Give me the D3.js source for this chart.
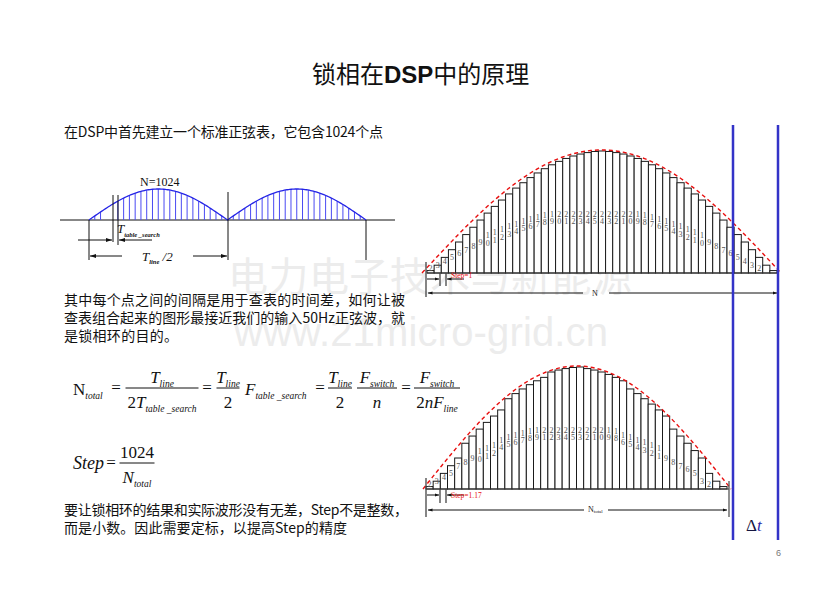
<!DOCTYPE html>
<html lang="zh">
<head>
<meta charset="UTF-8">
<title>锁相在DSP中的原理</title>
<script src="https://d3js.org/d3.v7.min.js"></script>
<style>
  body { margin: 0; background: #fff; }
</style>
</head>
<body>
<script>
var tableValues = [0.02, 0.064, 0.128, 0.191, 0.254, 0.315, 0.375, 0.434, 0.491, 0.546,
                   0.598, 0.648, 0.696, 0.740, 0.782, 0.820, 0.855, 0.887, 0.915, 0.939,
                   0.959, 0.975, 0.987, 0.996, 1.0];
// table index used by every bar, Step = 1
var upperLabels = [1,2,3,4,5,6,7,8,9,10,11,12,13,14,15,16,17,18,19,20,21,22,23,24,25,
                   24,23,22,21,20,19,18,17,16,15,14,13,12,11,10,9,8,7,6,5,4,3,2,1];
// table index used by every bar, Step = 1.17
var lowerLabels = [1,2,3,4,5,7,8,9,10,11,12,14,15,16,17,18,19,21,22,23,24,25,
                   23,22,21,20,19,18,16,15,14,13,12,11,9,8,7,6,5,3,2,1];
var introText = "在DSP中首先建立一个标准正弦表，它包含1024个点";
var paraLines = ["其中每个点之间的间隔是用于查表的时间差，如何让被",
                 "查表组合起来的图形最接近我们的输入50Hz正弦波，就",
                 "是锁相环的目的。"];
var bottomLines = ["要让锁相环的结果和实际波形没有无差，Step不是整数，",
                   "而是小数。因此需要定标，以提高Step的精度"];

var W = 835, H = 591;
var cjk = "'Noto Sans CJK SC', sans-serif";
var serif = "'Liberation Serif', 'DejaVu Serif', serif";

var svg = d3.select("body").append("svg")
    .attr("width", W)
    .attr("height", H)
    .style("background", "#fff");

var defs = svg.append("defs");
defs.append("marker")
    .attr("id", "ah")
    .attr("viewBox", "0 0 10 10")
    .attr("refX", 10).attr("refY", 5)
    .attr("markerWidth", 6).attr("markerHeight", 6)
    .attr("orient", "auto")
    .append("path").attr("d", "M0,1.5 L10,5 L0,8.5 z").attr("fill", "#111");
defs.append("marker")
    .attr("id", "ahs")
    .attr("viewBox", "0 0 10 10")
    .attr("refX", 10).attr("refY", 5)
    .attr("markerWidth", 4.5).attr("markerHeight", 4.5)
    .attr("orient", "auto")
    .append("path").attr("d", "M0,1.5 L10,5 L0,8.5 z").attr("fill", "#111");

// watermark
svg.append("text")
    .attr("x", 228).attr("y", 291)
    .attr("textLength", 404)
    .style("font-family", cjk).style("font-size", "40px")
    .style("fill", "#ececec")
    .text("电力电子技术与新能源");
svg.append("text")
    .attr("x", 234).attr("y", 346)
    .attr("textLength", 374)
    .style("font-family", "'Liberation Sans', Arial, sans-serif").style("font-size", "40px")
    .style("fill", "#ececec")
    .text("www.21micro-grid.cn");

// title
var title = svg.append("text")
    .attr("x", 312).attr("y", 83)
    .style("font-family", cjk).style("font-size", "24px").style("fill", "#111");
title.append("tspan").text("锁相在");
title.append("tspan").style("font-family", "'Liberation Sans', Arial, sans-serif")
    .style("font-weight", "bold").text("DSP");
title.append("tspan").text("中的原理");

function line(x1, y1, x2, y2, opts) {
    opts = opts || {};
    var l = svg.append("line")
        .attr("x1", x1).attr("y1", y1).attr("x2", x2).attr("y2", y2)
        .attr("stroke", opts.color || "#111")
        .attr("stroke-width", opts.w || 1);
    if (opts.arrow) l.attr("marker-end", "url(#" + opts.arrow + ")");
    return l;
}

function textLine(x, y, s, len) {
    svg.append("text")
        .attr("x", x).attr("y", y)
        .attr("textLength", len).attr("lengthAdjust", "spacing")
        .style("font-family", cjk).style("font-size", "14px").style("fill", "#111")
        .text(s);
}

textLine(64, 137, introText, 319);
paraLines.forEach(function (s, i) {
    textLine(64, 305 + i * 18, s, i < 2 ? 341 : 114);
});
textLine(64, 515, bottomLines[0], 344);
textLine(64, 533, bottomLines[1], 283);

// ---------- small sine sketch ----------
var xs = d3.scaleLinear().domain([0, 2]).range([89, 366]);
var ys = d3.scaleLinear().domain([0, 1]).range([220, 189]);
line(60, 220, 395, 220);
var samples = d3.range(0, 2.0001, 1 / 24).filter(function (t) {
    return Math.abs(t - Math.round(t)) > 1e-6 && Math.abs(t - 0.125) > 0.02 && Math.abs(t - 1 / 6) > 0.02;
});
svg.append("g").selectAll("line").data(samples).join("line")
    .attr("x1", function (d) { return xs(d); }).attr("x2", function (d) { return xs(d); })
    .attr("y1", 220)
    .attr("y2", function (d) { return ys(Math.abs(Math.sin(Math.PI * d))); })
    .attr("stroke", "#4a4af2").attr("stroke-width", 1);
svg.append("path")
    .datum(d3.range(0, 2.0001, 0.01))
    .attr("d", d3.line()
        .x(function (d) { return xs(d); })
        .y(function (d) { return ys(Math.abs(Math.sin(Math.PI * d))); }))
    .attr("fill", "none").attr("stroke", "#2424e6").attr("stroke-width", 1.3);
line(89, 220, 89, 260);
line(228, 192, 228, 260);
line(366, 220, 366, 260);
line(113, 195, 113, 242);
line(118, 195, 118, 245);
line(78, 240, 112, 240, { arrow: "ah" });
line(152, 240, 119, 240, { arrow: "ah" });
line(122, 256, 90, 256, { arrow: "ah" });
line(193, 256, 227, 256, { arrow: "ah" });
svg.append("text").attr("x", 140).attr("y", 186)
    .style("font-family", serif).style("font-size", "12px").style("fill", "#111")
    .text("N=1024");
var tts = svg.append("text").attr("x", 117).attr("y", 233)
    .style("font-family", serif).style("fill", "#111");
tts.append("tspan").style("font-style", "italic").style("font-size", "13px").text("T");
tts.append("tspan").attr("dy", 4).style("font-style", "italic").style("font-weight", "bold")
    .style("font-size", "6.5px").text("table _search");
var tl = svg.append("text").attr("x", 142).attr("y", 261)
    .style("font-family", serif).style("fill", "#111");
tl.append("tspan").style("font-style", "italic").style("font-size", "13px").text("T");
tl.append("tspan").attr("dy", 3).style("font-style", "italic").style("font-weight", "bold")
    .style("font-size", "6.5px").text("line");
tl.append("tspan").attr("dy", -3).style("font-style", "italic").style("font-size", "13px").text(" /2");

// ---------- formulas ----------
function mathText(x, y, parts, anchor, size) {
    size = size || 17;
    var t = svg.append("text").attr("x", x).attr("y", y)
        .attr("text-anchor", anchor || "start")
        .style("font-family", serif).style("font-size", size + "px").style("fill", "#111");
    var shifted = false;
    parts.forEach(function (p) {
        var s = t.append("tspan").text(p.t);
        if (p.i) s.style("font-style", "italic");
        if (p.sub) {
            s.style("font-size", "9.5px").style("font-style", "italic");
            if (!shifted) { s.attr("dy", 4); shifted = true; }
        } else if (shifted) {
            s.attr("dy", -4); shifted = false;
        }
    });
    return t;
}
function frac(cx, by, w, num, den) {
    line(cx - w / 2, by, cx + w / 2, by, { w: 1 });
    mathText(cx, by - 5, num, "middle");
    mathText(cx, by + 20, den, "middle");
}
var Tline = [{ t: "T", i: true }, { t: "line", sub: true }];
var Fsw = [{ t: "F", i: true }, { t: "switch", sub: true }];

mathText(73, 395, [{ t: "N" }, { t: "total", sub: true }]);
mathText(116, 393, [{ t: "=" }], "middle");
frac(162, 388, 73, Tline, [{ t: "2" }, { t: "T", i: true }, { t: "table _search", sub: true }]);
mathText(207, 393, [{ t: "=" }], "middle");
frac(228, 388, 23, Tline, [{ t: "2" }]);
mathText(245, 395, [{ t: "F", i: true }, { t: "table _search", sub: true }]);
mathText(320, 393, [{ t: "=" }], "middle");
frac(340, 388, 24, Tline, [{ t: "2" }]);
frac(377, 388, 40, Fsw, [{ t: "n", i: true }]);
mathText(406, 393, [{ t: "=" }], "middle");
frac(437, 388, 46, Fsw, [{ t: "2" }, { t: "nF", i: true }, { t: "line", sub: true }]);

mathText(73, 469, [{ t: "Step", i: true }], "start", 18);
mathText(111, 468, [{ t: "=" }], "middle");
frac(137, 463, 35, [{ t: "1024" }], [{ t: "N", i: true }, { t: "total", sub: true }]);

// ---------- staircase charts ----------
function staircase(labels, x0, x1, base, top, curveX0, curveX1) {
    var x = d3.scaleBand().domain(d3.range(labels.length)).range([x0, x1]).padding(0);
    var y = d3.scaleLinear().domain([0, 1]).range([base, top]);
    var g = svg.append("g");
    g.selectAll("rect").data(labels).join("rect")
        .attr("x", function (d, i) { return x(i); })
        .attr("width", x.bandwidth())
        .attr("y", function (d) { return y(tableValues[d - 1]); })
        .attr("height", function (d) { return Math.max(2, base - y(tableValues[d - 1])); })
        .attr("fill", "#fff").attr("stroke", "#1a1a1a").attr("stroke-width", 1);
    g.selectAll("text").data(labels).join("text")
        .filter(function (d) { return d > 1; })
        .attr("text-anchor", "middle")
        .style("font-family", serif).style("font-size", "8px").style("fill", "#555")
        .each(function (d, i) {
            var idx = labels.indexOf(d) === i ? i : i;
            var h = base - y(tableValues[d - 1]);
            var cy = base - Math.min(h / 2, 55);
            var digits = String(d).split("");
            var t = d3.select(this);
            var cx = x(idx) + x.bandwidth() / 2;
            digits.forEach(function (c, k) {
                t.append("tspan").attr("x", cx)
                    .attr("y", cy - digits.length * 3.6 + 6 + k * 7.4)
                    .text(c);
            });
        });
    line(x0, base, x1 + 2, base, { color: "#333", w: 1.2 });
    var yc = d3.scaleLinear().domain([0, 1]).range([base, top - 1]);
    g.append("path")
        .datum(d3.range(0, 1.0001, 0.01))
        .attr("d", d3.line()
            .x(function (t) { return curveX0 + t * (curveX1 - curveX0); })
            .y(function (t) { return yc(Math.sin(Math.PI * t)); }))
        .attr("fill", "none").attr("stroke", "#e81010")
        .attr("stroke-width", 1.4).attr("stroke-dasharray", "4,3");
}

staircase(upperLabels, 427, 777, 273, 151, 422, 781);
staircase(lowerLabels, 426, 727, 489, 367, 423, 731);

// annotations under the upper staircase
line(426, 262, 426, 297, { color: "#444", w: 1.3 });
line(440, 273, 440, 286, { color: "#444", w: 1.3 });
line(446, 273, 446, 286, { color: "#444", w: 1.3 });
line(427, 279, 439, 279, { arrow: "ahs" });
line(464, 279, 447, 279, { arrow: "ahs" });
svg.append("text").attr("x", 451).attr("y", 278)
    .style("font-family", serif).style("font-size", "7.5px").style("fill", "#e81010")
    .text("Step=1");
line(583, 293, 428, 293, { arrow: "ahs" });
line(609, 293, 777, 293, { arrow: "ahs" });
svg.append("text").attr("x", 595).attr("y", 296).attr("text-anchor", "middle")
    .style("font-family", serif).style("font-size", "8px").style("fill", "#222").text("N");

// annotations under the lower staircase
line(426, 478, 426, 517, { color: "#444", w: 1.3 });
line(440, 489, 440, 503, { color: "#444", w: 1.3 });
line(446, 489, 446, 503, { color: "#444", w: 1.3 });
line(729, 481, 729, 517, { color: "#555", w: 1.3 });
line(427, 495, 439, 495, { arrow: "ahs" });
line(464, 495, 447, 495, { arrow: "ahs" });
svg.append("text").attr("x", 451).attr("y", 498)
    .style("font-family", serif).style("font-size", "7.5px").style("fill", "#e81010")
    .text("Step=1.17");
line(584, 510, 428, 510, { arrow: "ahs" });
line(608, 510, 727, 510, { arrow: "ahs" });
var nt = svg.append("text").attr("x", 588).attr("y", 512)
    .style("font-family", serif).style("fill", "#222");
nt.append("tspan").style("font-size", "8px").text("N");
nt.append("tspan").attr("dy", 1).style("font-size", "5px").text("total");

// blue time markers
line(733, 125, 733, 540, { color: "#3333c8", w: 2.5 });
line(778, 125, 778, 540, { color: "#3333c8", w: 2.5 });
var dt = svg.append("text").attr("x", 746).attr("y", 531)
    .style("font-family", serif).style("font-size", "17px");
dt.append("tspan").style("fill", "#151540").text("Δ");
dt.append("tspan").style("fill", "#2a2aa8").style("font-style", "italic").text("t");

// page number
svg.append("text").attr("x", 776).attr("y", 556)
    .style("font-family", "'Liberation Sans', Arial, sans-serif").style("font-size", "9px")
    .style("fill", "#777").text("6");
</script>
</body>
</html>
